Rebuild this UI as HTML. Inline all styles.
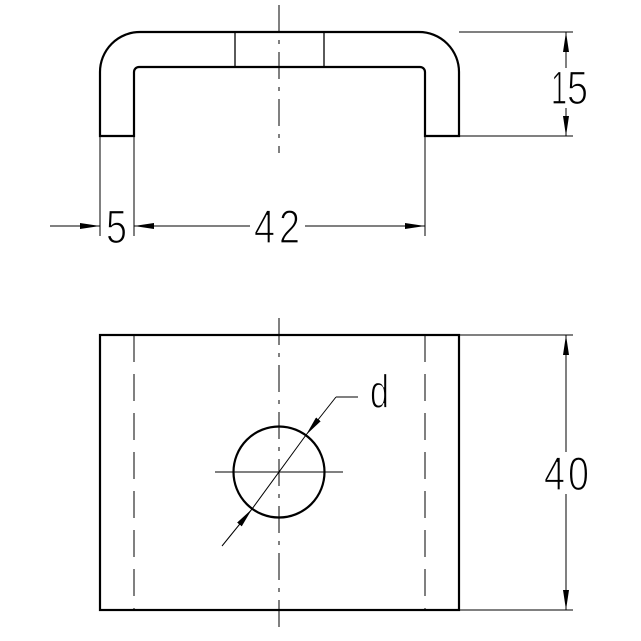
<!DOCTYPE html>
<html><head><style>html,body{margin:0;padding:0;background:#fff}svg{display:block}</style></head>
<body>
<svg width="641" height="641" viewBox="0 0 641 641" xmlns="http://www.w3.org/2000/svg">
<defs>
<marker id="a" viewBox="0 0 20 6" refX="20" refY="3" markerWidth="20" markerHeight="6" markerUnits="userSpaceOnUse" orient="auto-start-reverse"><path d="M0,0 L20,3 L0,6 z" fill="#000"/></marker>
</defs>
<g fill="none" stroke="#000">
<path d="M100,136 L100,72 A40,40 0 0 1 140,32 L419,32 A40,40 0 0 1 459,72 L459,136 L425,136 L425,72 A5,5 0 0 0 420,67 L139,67 A5,5 0 0 0 134,72 L134,136 Z" stroke-width="2.2"/>
<line x1="235" y1="32" x2="235" y2="67" stroke-width="1.3"/>
<line x1="324" y1="32" x2="324" y2="67" stroke-width="1.3"/>
<line x1="279" y1="5" x2="279" y2="153" stroke-width="1" stroke-dasharray="27,8,4,8"/>
<line x1="459" y1="32" x2="573" y2="32" stroke-width="1"/>
<line x1="459" y1="136" x2="573" y2="136" stroke-width="1"/>
<line x1="566" y1="68" x2="566" y2="32" stroke-width="1" marker-end="url(#a)"/>
<line x1="566" y1="108" x2="566" y2="136" stroke-width="1" marker-end="url(#a)"/>
<line x1="100" y1="136" x2="100" y2="236" stroke-width="1"/>
<line x1="134" y1="136" x2="134" y2="236" stroke-width="1"/>
<line x1="425" y1="136" x2="425" y2="236" stroke-width="1"/>
<line x1="50" y1="226" x2="100" y2="226" stroke-width="1" marker-end="url(#a)"/>
<line x1="250" y1="226" x2="134" y2="226" stroke-width="1" marker-end="url(#a)"/>
<line x1="305" y1="226" x2="425" y2="226" stroke-width="1" marker-end="url(#a)"/>
<rect x="100" y="335" width="359" height="275" stroke-width="2.2"/>
<line x1="134" y1="335" x2="134" y2="610" stroke-width="1" stroke-dasharray="27,12"/>
<line x1="425" y1="335" x2="425" y2="610" stroke-width="1" stroke-dasharray="27,12"/>
<line x1="279" y1="318" x2="279" y2="630" stroke-width="1" stroke-dasharray="27,8,4,8"/>
<line x1="215" y1="472" x2="343" y2="472" stroke-width="1"/>
<circle cx="279" cy="472" r="45.5" stroke-width="2.2"/>
<line x1="252" y1="509" x2="306" y2="435" stroke-width="1"/>
<line x1="336" y1="397" x2="306" y2="435" stroke-width="1" marker-end="url(#a)"/>
<line x1="222" y1="546" x2="252" y2="509" stroke-width="1" marker-end="url(#a)"/>
<polyline points="336,397 358,397" stroke-width="1"/>
<line x1="459" y1="335" x2="573" y2="335" stroke-width="1"/>
<line x1="459" y1="610" x2="573" y2="610" stroke-width="1"/>
<line x1="566" y1="452" x2="566" y2="335" stroke-width="1" marker-end="url(#a)"/>
<line x1="566" y1="494" x2="566" y2="610" stroke-width="1" marker-end="url(#a)"/>
</g>
<g font-family="Liberation Sans, sans-serif" font-size="47" fill="#000" stroke="#fff" stroke-width="1.3">
<text x="551" y="104" textLength="16" lengthAdjust="spacingAndGlyphs">1</text>
<text x="567" y="104" textLength="21" lengthAdjust="spacingAndGlyphs">5</text>
<text x="106" y="243" textLength="21" lengthAdjust="spacingAndGlyphs">5</text>
<text x="254" y="243" textLength="21" lengthAdjust="spacingAndGlyphs">4</text>
<text x="279" y="243" textLength="21" lengthAdjust="spacingAndGlyphs">2</text>
<text x="544" y="490" textLength="21" lengthAdjust="spacingAndGlyphs">4</text>
<text x="568" y="490" textLength="21" lengthAdjust="spacingAndGlyphs">0</text>
<text x="370" y="408" textLength="19" lengthAdjust="spacingAndGlyphs">d</text>
</g>
</svg>
</body></html>
